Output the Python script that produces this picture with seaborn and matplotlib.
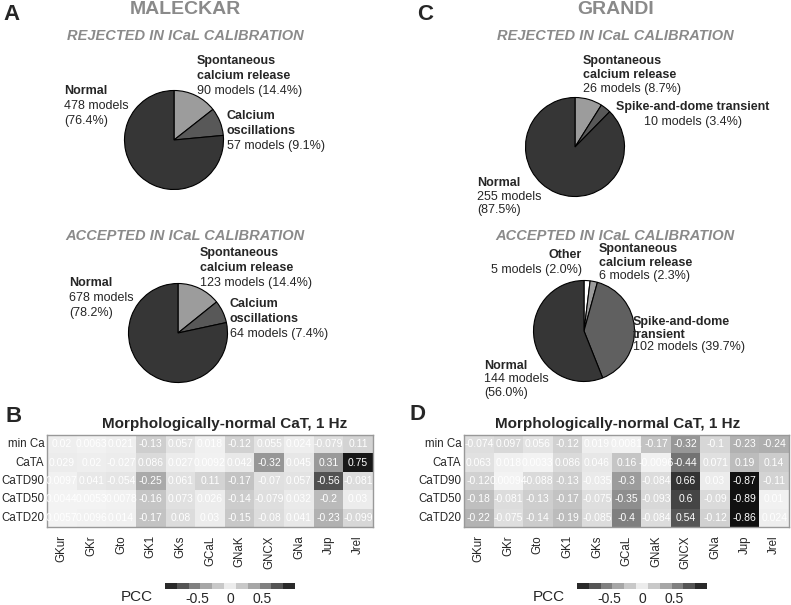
import matplotlib
matplotlib.use("Agg")
import matplotlib.pyplot as plt
from matplotlib.colors import LinearSegmentedColormap, ListedColormap, Normalize
from matplotlib.cm import ScalarMappable
import pandas as pd
import seaborn as sns

# ---- pie data (clockwise from 12 o'clock) ----
mal_rej_names = ["Spontaneous\ncalcium release", "Calcium\noscillations", "Normal"]
mal_rej_counts = [90, 57, 478]
mal_rej_pct = [14.4, 9.1, 76.4]

mal_acc_names = ["Spontaneous\ncalcium release", "Calcium\noscillations", "Normal"]
mal_acc_counts = [123, 64, 678]
mal_acc_pct = [14.4, 7.4, 78.2]

gra_rej_names = ["Spontaneous\ncalcium release", "Spike-and-dome transient", "Normal"]
gra_rej_counts = [26, 10, 255]
gra_rej_pct = [8.7, 3.4, 87.5]

gra_acc_names = ["Other", "Spontaneous\ncalcium release", "Spike-and-dome\ntransient", "Normal"]
gra_acc_counts = [5, 6, 102, 144]
gra_acc_pct = [2.0, 2.3, 39.7, 56.0]

# ---- PCC heatmap data ----
params = ["GKur", "GKr", "Gto", "GK1", "GKs", "GCaL", "GNaK", "GNCX", "GNa", "Jup", "Jrel"]
biomarkers = ["min Ca", "CaTA", "CaTD90", "CaTD50", "CaTD20"]

mal_min_ca = [0.02, 0.0063, 0.021, -0.13, 0.057, 0.018, -0.12, 0.055, 0.024, -0.079, 0.11]
mal_cata = [0.029, 0.02, -0.027, 0.086, 0.027, 0.0092, 0.042, -0.32, 0.045, 0.31, 0.75]
mal_catd90 = [0.0097, 0.041, -0.054, -0.25, 0.061, 0.11, -0.17, -0.07, 0.057, -0.56, -0.081]
mal_catd50 = [0.0044, 0.0053, 0.0078, -0.16, 0.073, 0.026, -0.14, -0.079, 0.032, -0.2, 0.03]
mal_catd20 = [0.0057, 0.0096, 0.014, -0.17, 0.08, 0.03, -0.15, -0.08, 0.041, -0.23, -0.099]

gra_min_ca = [-0.074, 0.097, 0.056, -0.12, 0.019, 0.0081, -0.17, -0.32, -0.1, -0.23, -0.24]
gra_cata = [0.063, 0.018, 0.0033, 0.086, 0.046, 0.16, -0.0096, -0.44, 0.071, 0.19, 0.14]
gra_catd90 = [-0.12, 0.00094, -0.088, -0.13, -0.035, -0.3, -0.084, 0.66, 0.03, -0.87, -0.11]
gra_catd50 = [-0.18, -0.081, -0.13, -0.17, -0.075, -0.35, -0.093, 0.6, -0.09, -0.89, 0.01]
gra_catd20 = [-0.22, -0.075, -0.14, -0.19, -0.085, -0.4, -0.084, 0.54, -0.12, -0.86, 0.024]

cbar_ticks = [-0.5, 0, 0.5]

sns.set_style("white")
plt.rcParams["font.family"] = ["Liberation Sans", "DejaVu Sans"]

W, H = 791, 605
fig = plt.figure(figsize=(W / 100, H / 100), dpi=100)

TITLE_GRAY = "#8a8a8a"


def px(x, y):
    return x / W, 1 - y / H


def ftext(x, y, s, **kw):
    fig.text(*px(x, y), s, **kw)


def pie_at(cx, cy, r, counts, colors):
    ax = fig.add_axes([(cx - r) / W, 1 - (cy + r) / H, 2 * r / W, 2 * r / H])
    ax.pie(counts, colors=colors, startangle=90, counterclock=False,
           wedgeprops=dict(edgecolor="black", linewidth=0.8))
    ax.set_xlim(-1.01, 1.01)
    ax.set_ylim(-1.01, 1.01)
    ax.set_aspect("auto")
    ax.axis("off")
    return ax


def pie_label(x, y, name, count, pct, split=False, ha="left", step=15, fs=9):
    lines = name.split("\n")
    for i, ln in enumerate(lines):
        ftext(x, y + i * step, ln, fontsize=fs, fontweight="bold", ha=ha, va="center")
    y0 = y + len(lines) * step
    if split:
        ftext(x, y0, f"{count} models", fontsize=fs, ha=ha, va="center")
        ftext(x, y0 + step, f"({pct:.1f}%)", fontsize=fs, ha=ha, va="center")
    else:
        ftext(x, y0, f"{count} models ({pct:.1f}%)", fontsize=fs, ha=ha, va="center")


# ---- headers ----
ftext(12, 14, "A", fontsize=16, fontweight="bold", ha="center", va="center")
ftext(425, 14, "C", fontsize=16, fontweight="bold", ha="center", va="center")
ftext(185, 10, "MALECKAR", fontsize=14, fontweight="bold", color=TITLE_GRAY, ha="center", va="center")
ftext(616, 10, "GRANDI", fontsize=14, fontweight="bold", color=TITLE_GRAY, ha="center", va="center")
for cx in (185, 615):
    ftext(cx, 36, "REJECTED IN ICaL CALIBRATION", fontsize=10.5, fontweight="bold",
          fontstyle="italic", color=TITLE_GRAY, ha="center", va="center")
    ftext(cx, 236, "ACCEPTED IN ICaL CALIBRATION", fontsize=10.5, fontweight="bold",
          fontstyle="italic", color=TITLE_GRAY, ha="center", va="center")

# ---- pies ----
pie_at(174, 140, 50, mal_rej_counts, ["#9c9c9c", "#585858", "#363636"])
pie_label(197, 61, mal_rej_names[0], mal_rej_counts[0], mal_rej_pct[0])
pie_label(227, 116, mal_rej_names[1], mal_rej_counts[1], mal_rej_pct[1])
pie_label(64, 91, mal_rej_names[2], mal_rej_counts[2], mal_rej_pct[2], split=True)

pie_at(178, 333, 50, mal_acc_counts, ["#9c9c9c", "#585858", "#363636"])
pie_label(200, 253, mal_acc_names[0], mal_acc_counts[0], mal_acc_pct[0])
pie_label(230, 304, mal_acc_names[1], mal_acc_counts[1], mal_acc_pct[1])
pie_label(69, 283, mal_acc_names[2], mal_acc_counts[2], mal_acc_pct[2], split=True)

pie_at(575, 147, 50, gra_rej_counts, ["#9c9c9c", "#585858", "#363636"])
pie_label(583, 61, gra_rej_names[0], gra_rej_counts[0], gra_rej_pct[0], step=14)
pie_label(693, 107, gra_rej_names[1], gra_rej_counts[1], gra_rej_pct[1], ha="center", step=15)
pie_label(477, 183, gra_rej_names[2], gra_rej_counts[2], gra_rej_pct[2], split=True, step=13.5)

pie_at(584, 331, 51, gra_acc_counts, ["white", "#9c9c9c", "#606060", "#363636"])
pie_label(582, 255, gra_acc_names[0], gra_acc_counts[0], gra_acc_pct[0], ha="right")
pie_label(599, 249, gra_acc_names[1], gra_acc_counts[1], gra_acc_pct[1], step=13.5)
pie_label(633, 322, gra_acc_names[2], gra_acc_counts[2], gra_acc_pct[2], step=12.5)
pie_label(484, 366, gra_acc_names[3], gra_acc_counts[3], gra_acc_pct[3], split=True, step=13.5)

# ---- heatmaps ----
heat_cmap = LinearSegmentedColormap.from_list("absgray", ["#111111", "#f4f4f4", "#111111"])
bar_cmap = ListedColormap(["#2a2a2a", "#555555", "#808080", "#a6a6a6", "#c8c8c8", "#ececec",
                           "#c8c8c8", "#a6a6a6", "#808080", "#555555", "#2a2a2a"])


def heat_panel(x0, x1, rows, letter, lx, ly, tx, cb_x0):
    df = pd.DataFrame(rows, index=biomarkers, columns=params)
    ax = fig.add_axes([x0 / W, 1 - 527 / H, (x1 - x0) / W, 92 / H])
    sns.heatmap(df, ax=ax, cmap=heat_cmap, vmin=-0.78, vmax=0.78, cbar=False,
                annot=True, fmt="g", annot_kws=dict(fontsize=7.5, color="white"))
    for sp in ax.spines.values():
        sp.set_visible(True)
        sp.set_color("#999999")
        sp.set_linewidth(1)
    ax.tick_params(axis="both", length=0, labelsize=8.3)
    ax.tick_params(axis="x", pad=6, labelrotation=90)
    ax.tick_params(axis="y", pad=2, labelrotation=0)
    ax.set_xlabel("")
    ax.set_ylabel("")
    ftext(lx, ly, letter, fontsize=16, fontweight="bold", ha="center", va="center")
    ftext(tx, 424, "Morphologically-normal CaT, 1 Hz", fontsize=11, fontweight="bold",
          ha="center", va="center")
    cax = fig.add_axes([cb_x0 / W, 1 - 589 / H, 130 / W, 6 / H])
    cb = fig.colorbar(ScalarMappable(norm=Normalize(-1, 1), cmap=bar_cmap), cax=cax,
                      orientation="horizontal", ticks=cbar_ticks)
    cb.outline.set_visible(False)
    cax.tick_params(length=0, labelsize=10, pad=2)
    cax.set_xticklabels([f"{t:g}" for t in cbar_ticks])
    ftext(cb_x0 - 28, 597, "PCC", fontsize=11, ha="center", va="center")


heat_panel(47, 373, [mal_min_ca, mal_cata, mal_catd90, mal_catd50, mal_catd20],
           "B", 14, 417, 225, 165)
heat_panel(464, 789, [gra_min_ca, gra_cata, gra_catd90, gra_catd50, gra_catd20],
           "D", 418, 415, 618, 577)

fig.savefig("out.png", dpi=100, facecolor="white")
